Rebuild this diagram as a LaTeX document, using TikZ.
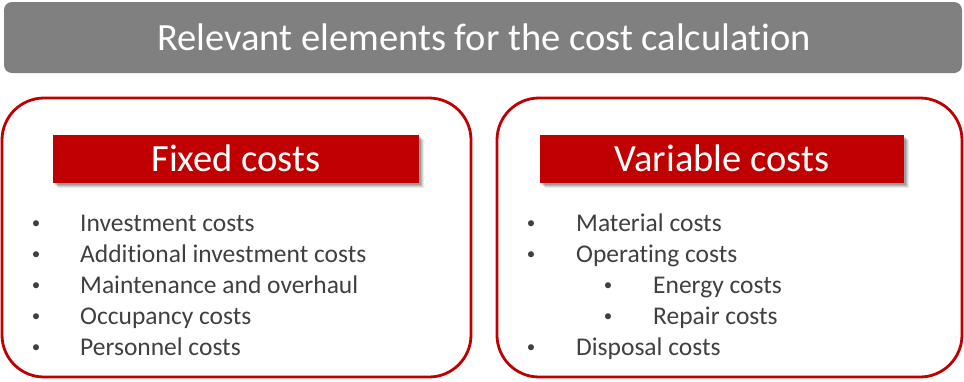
\documentclass[tikz,border=0pt]{standalone}
\usepackage{fontspec}
\setmainfont[RawFeature=-liga]{Carlito}
\definecolor{hdrgray}{HTML}{808080}
\definecolor{myred}{HTML}{C00000}
\definecolor{txtgray}{HTML}{404040}
\begin{document}
\begin{tikzpicture}[x=1pt,y=-1pt,
  titlebar/.style={fill=hdrgray,rounded corners=8pt,draw=none},
  panel/.style={draw=myred,line width=2.8pt,rounded corners=42pt,fill=white},
  redhead/.style={fill=myred,draw=none},
  headtext/.style={text=white,font=\fontsize{38.5}{42}\selectfont,inner sep=0pt,anchor=base},
  item/.style={text=txtgray,font=\fontsize{25.5}{30}\selectfont,anchor=base west,inner sep=0pt},
  bul/.style={text=txtgray,font=\fontsize{17}{20}\selectfont,anchor=base,inner sep=0pt}
]
\useasboundingbox (0,0) rectangle (964,381);
% title
\fill[titlebar] (4,2) rectangle (962,73);
\node[headtext] (title) at (484,50) {Relevant elements for the cost calculation};
% panels
\draw[panel] (2,98) rectangle (471,377);
\draw[panel] (497,98) rectangle (962,377);
% header shadows
\foreach \o/\a in {5/0.08,4/0.1,3/0.12,2/0.14}{
  \fill[black,opacity=\a] (53+\o,135+\o) rectangle (419+\o,183+\o);
  \fill[black,opacity=\a] (540+\o,135+\o) rectangle (904+\o,183+\o);
}
\fill[redhead] (53,135) rectangle (419,183);
\fill[redhead] (540,135) rectangle (904,183);
\node[headtext] (fixed) at (236,171) {Fixed costs};
\node[headtext] (variable) at (722,171) {Variable costs};
% left list
\foreach \y/\t [count=\i] in {231/Investment costs,262/Additional investment costs,293/Maintenance and overhaul,324/Occupancy costs,355/Personnel costs}{
  \node[bul] (lb\i) at (36,\y-3) {•};
  \node[item] (li\i) at (80,\y) {\t};
}
% right list
\node[bul] (rb1) at (531,228) {•};
\node[item] (ri1) at (576,231) {Material costs};
\node[bul] (rb2) at (531,259) {•};
\node[item] (ri2) at (576,262) {Operating costs};
\node[bul] (rb3) at (608,290) {•};
\node[item] (ri3) at (653,293) {Energy costs};
\node[bul] (rb4) at (608,321) {•};
\node[item] (ri4) at (653,324) {Repair costs};
\node[bul] (rb5) at (531,352) {•};
\node[item] (ri5) at (576,355) {Disposal costs};
\end{tikzpicture}
\end{document}
